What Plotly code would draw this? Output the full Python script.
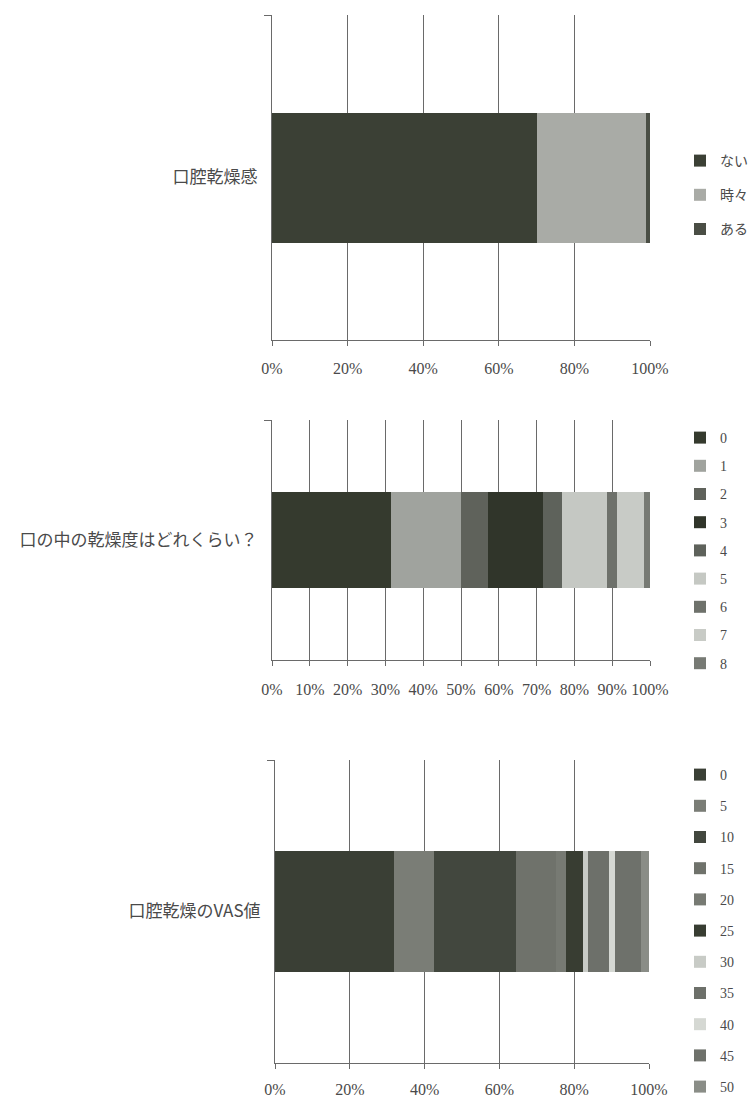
import plotly.graph_objects as go

# ---- data -------------------------------------------------------------
cat1 = ["口腔乾燥感"]
names1 = ["ない", "時々", "ある"]
vals1 = [70.0, 28.9, 1.1]

cat2 = ["口の中の乾燥度はどれくらい？"]
names2 = ["0", "1", "2", "3", "4", "5", "6", "7", "8"]
vals2 = [31.4, 18.6, 7.1, 14.6, 4.9, 11.9, 2.9, 7.1, 1.5]

cat3 = ["口腔乾燥のVAS値"]
names3 = ["0", "5", "10", "15", "20", "25", "30", "35", "40", "45", "50"]
vals3 = [31.7, 10.9, 21.8, 10.7, 2.7, 4.5, 1.4, 5.6, 1.6, 6.9, 2.2]

# ---- styles -----------------------------------------------------------
colors1 = ["#3b4035", "#a9aba6", "#4a4e45"]
colors2 = ["#353a2e", "#a0a39e", "#5f625b", "#30352a", "#5e625b",
           "#c5c8c3", "#6e716b", "#c8cbc6", "#777a74"]
colors3 = ["#3a3f35", "#7a7d76", "#42473e", "#6f726b", "#777a73",
           "#383d32", "#c8cbc6", "#6d706a", "#d5d8d3", "#6e716b", "#8a8d87"]

W, H = 749, 1100
ML, MR = 272, 99
PW = W - ML - MR
TXT = "#4a4a4a"
FONT = "Liberation Serif, DejaVu Serif, Noto Sans CJK JP, serif"
JFONT = "Noto Sans CJK JP, sans-serif"


def ydom(top, bottom):
    return [1 - bottom / H, 1 - top / H]


def xdom(left, right):
    return [(left - ML) / PW, (right - ML) / PW]


fig = go.Figure()

panels = [
    (cat1, names1, vals1, colors1, "x", "y", "legend"),
    (cat2, names2, vals2, colors2, "x2", "y2", "legend2"),
    (cat3, names3, vals3, colors3, "x3", "y3", "legend3"),
]
for cat, names, vals, cols, xa, ya, lg in panels:
    for i, (n, v, c) in enumerate(zip(names, vals, cols)):
        fig.add_trace(go.Bar(
            y=cat, x=[v], name=n, orientation="h",
            marker=dict(color=c, line=dict(width=0)),
            width=0.4, xaxis=xa, yaxis=ya, legend=lg,
            legendgroup=f"{lg}-{i}",
            hoverinfo="skip",
        ))

axis_x = dict(
    range=[0, 100], ticksuffix="%", showgrid=True, gridcolor="#6a6a6a",
    gridwidth=1, showline=True, linecolor="#6a6a6a", linewidth=1,
    ticks="outside", ticklen=5, tickcolor="#6a6a6a", tickangle=0,
    zeroline=False, tickfont=dict(family=FONT, size=16, color=TXT),
    fixedrange=True,
)
axis_y = dict(
    type="category", range=[-0.5, 0.5], tickson="boundaries",
    showline=True, linecolor="#6a6a6a", linewidth=1, showgrid=False,
    ticks="outside", ticklen=7, tickcolor="#6a6a6a", ticklabelstandoff=10,
    tickfont=dict(family=JFONT, size=17, color=TXT), fixedrange=True,
)

legend_common = dict(
    x=(680 - ML) / PW, xanchor="left", yanchor="top", itemwidth=30,
    font=dict(family=FONT, size=14, color=TXT), bgcolor="rgba(0,0,0,0)",
)

fig.update_layout(
    width=W, height=H, barmode="stack",
    margin=dict(l=ML, r=MR, t=0, b=0, autoexpand=False),
    paper_bgcolor="white", plot_bgcolor="white",
    showlegend=True,
    xaxis=dict(axis_x, domain=xdom(272, 650), anchor="y", dtick=20,
               ticklabelstandoff=9),
    yaxis=dict(axis_y, domain=ydom(15, 340), anchor="x"),
    xaxis2=dict(axis_x, domain=xdom(272, 650), anchor="y2", dtick=10,
                ticklabelstandoff=10),
    yaxis2=dict(axis_y, domain=ydom(420, 660), anchor="x2"),
    xaxis3=dict(axis_x, domain=xdom(275, 649), anchor="y3", dtick=20,
                ticklabelstandoff=7),
    yaxis3=dict(axis_y, domain=ydom(760, 1063), anchor="x3"),
    legend=dict(legend_common, y=1 - 145 / H, tracegroupgap=13),
    legend2=dict(legend_common, y=1 - 422 / H, tracegroupgap=7),
    legend3=dict(legend_common, y=1 - 759 / H, tracegroupgap=10),
)

fig.write_html("out.html")
